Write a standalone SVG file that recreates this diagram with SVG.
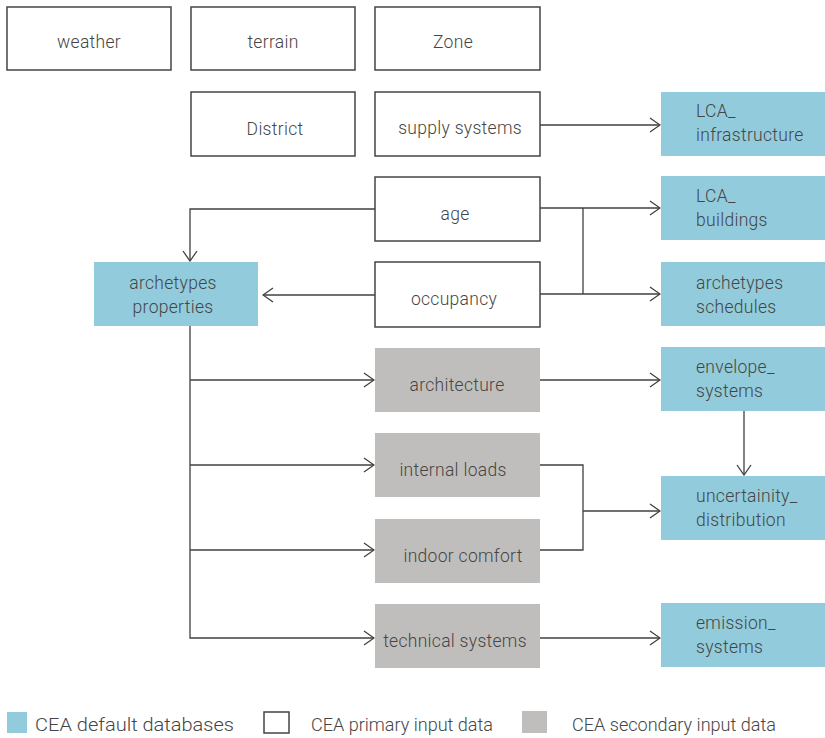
<svg xmlns="http://www.w3.org/2000/svg" width="825" height="738" viewBox="0 0 825 738">
<style>
text{font-family:Roboto,"Liberation Sans",sans-serif;font-size:17.5px;fill:#454545;font-weight:300;letter-spacing:0.3px}
.c{text-anchor:middle}
.p{fill:#fff;stroke:#444;stroke-width:1.5}
.d{fill:#92CBDB}
.s{fill:#C0BEBC}
.e{fill:none;stroke:#404040;stroke-width:1.3}
.lg{font-size:19px;letter-spacing:0}
</style>
<defs>
<marker id="a" viewBox="0 0 12 16" refX="11" refY="8" markerWidth="12" markerHeight="16" markerUnits="userSpaceOnUse" orient="auto">
<path d="M1,1 L11,8 L1,15" fill="none" stroke="#404040" stroke-width="1.3"/>
</marker>
</defs>
<g id="connectors">
<path class="e" d="M540,125 H660" marker-end="url(#a)"/>
<path class="e" d="M375,209 H190 V261" marker-end="url(#a)"/>
<path class="e" d="M540,208 H660" marker-end="url(#a)"/>
<path class="e" d="M583,208 V294"/>
<path class="e" d="M540,294 H660" marker-end="url(#a)"/>
<path class="e" d="M375,295 H263" marker-end="url(#a)"/>
<path class="e" d="M190,326 V638 H374" marker-end="url(#a)"/>
<path class="e" d="M190,380 H374" marker-end="url(#a)"/>
<path class="e" d="M190,465 H374" marker-end="url(#a)"/>
<path class="e" d="M190,550 H374" marker-end="url(#a)"/>
<path class="e" d="M540,380 H660" marker-end="url(#a)"/>
<path class="e" d="M744,411 V475" marker-end="url(#a)"/>
<path class="e" d="M540,465 H583 V550 H540"/>
<path class="e" d="M583,511 H660" marker-end="url(#a)"/>
<path class="e" d="M540,638 H660" marker-end="url(#a)"/>
</g>
<g id="weather"><rect class="p" x="7" y="7" width="164" height="63"/><text class="c" x="89" y="48">weather</text></g>
<g id="terrain"><rect class="p" x="191" y="7" width="164" height="63"/><text class="c" x="273" y="48">terrain</text></g>
<g id="zone"><rect class="p" x="375" y="7" width="165" height="63"/><text class="c" x="453" y="48">Zone</text></g>
<g id="district"><rect class="p" x="191" y="92" width="164" height="64"/><text class="c" x="275" y="135">District</text></g>
<g id="supply"><rect class="p" x="375" y="92" width="165" height="64"/><text class="c" x="460" y="134">supply systems</text></g>
<g id="lca_infra"><rect class="d" x="661" y="92" width="164" height="64"/><text x="696" y="117">LCA_</text><text x="696" y="141">infrastructure</text></g>
<g id="age"><rect class="p" x="375" y="177" width="165" height="64"/><text class="c" x="455" y="220">age</text></g>
<g id="lca_buildings"><rect class="d" x="661" y="176" width="164" height="64"/><text x="696" y="202">LCA_</text><text x="696" y="226">buildings</text></g>
<g id="arch_props"><rect class="d" x="94" y="262" width="164" height="64"/><text class="c" x="173" y="289">archetypes</text><text class="c" x="173" y="313">properties</text></g>
<g id="occupancy"><rect class="p" x="375" y="262" width="165" height="65"/><text class="c" x="454" y="305">occupancy</text></g>
<g id="arch_sched"><rect class="d" x="661" y="262" width="164" height="64"/><text x="696" y="289">archetypes</text><text x="696" y="313">schedules</text></g>
<g id="architecture"><rect class="s" x="375" y="348" width="165" height="64"/><text class="c" x="457" y="391">architecture</text></g>
<g id="envelope"><rect class="d" x="661" y="347" width="164" height="64"/><text x="696" y="373">envelope_</text><text x="696" y="397">systems</text></g>
<g id="internal"><rect class="s" x="375" y="433" width="165" height="64"/><text class="c" x="453" y="476">internal loads</text></g>
<g id="uncertainty"><rect class="d" x="661" y="476" width="164" height="64"/><text x="696" y="502">uncertainity_</text><text x="696" y="526">distribution</text></g>
<g id="indoor"><rect class="s" x="375" y="519" width="165" height="64"/><text class="c" x="463" y="562">indoor comfort</text></g>
<g id="technical"><rect class="s" x="375" y="604" width="165" height="64"/><text class="c" x="455" y="647">technical systems</text></g>
<g id="emission"><rect class="d" x="661" y="603" width="164" height="64"/><text x="696" y="629">emission_</text><text x="696" y="653">systems</text></g>
<g id="legend">
<rect class="d" x="7" y="712" width="20" height="21"/>
<text class="lg" x="35" y="731" textLength="199" lengthAdjust="spacingAndGlyphs">CEA default databases</text>
<rect class="p" x="264" y="712" width="25" height="21"/>
<text class="lg" x="311" y="731" textLength="182" lengthAdjust="spacingAndGlyphs">CEA primary input data</text>
<rect class="s" x="522" y="711" width="25" height="22"/>
<text class="lg" x="572" y="731" textLength="204" lengthAdjust="spacingAndGlyphs">CEA secondary input data</text>
</g>
</svg>
